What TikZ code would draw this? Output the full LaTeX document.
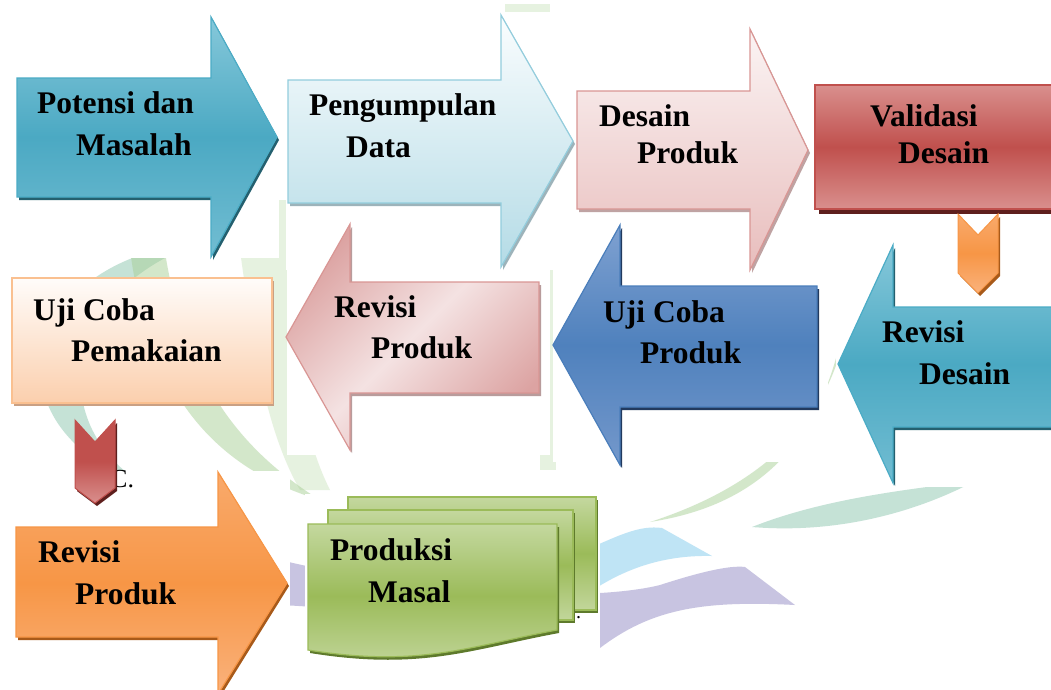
\documentclass[tikz,border=0pt]{standalone}
\usepackage{fontspec}
\setmainfont{Liberation Serif}
\definecolor{tealA}{HTML}{86C8DA}
\definecolor{tealB}{HTML}{4BA9C3}
\definecolor{tealC}{HTML}{72BDD2}
\definecolor{tealD}{HTML}{4BACC6}
\definecolor{tealS}{HTML}{24606F}
\definecolor{ltbA}{HTML}{FAFDFE}
\definecolor{ltbB}{HTML}{B4DBE6}
\definecolor{ltbD}{HTML}{93CDDD}
\definecolor{ltbS}{HTML}{9DB3BA}
\definecolor{pkA}{HTML}{FBF4F4}
\definecolor{pkB}{HTML}{E8BDBC}
\definecolor{pkD}{HTML}{D99694}
\definecolor{pkS}{HTML}{BFA3A3}
\definecolor{redA}{HTML}{D98F8D}
\definecolor{redB}{HTML}{C0504D}
\definecolor{redS}{HTML}{5E1F1D}
\definecolor{bluA}{HTML}{7FA1D1}
\definecolor{bluB}{HTML}{4F81BD}
\definecolor{bluC}{HTML}{7498CB}
\definecolor{bluD}{HTML}{4A7EBB}
\definecolor{bluS}{HTML}{223A5E}
\definecolor{rpD}{HTML}{DCA3A2}
\definecolor{rpL}{HTML}{F4E2E2}
\definecolor{rpS}{HTML}{B89C9C}
\definecolor{peA}{HTML}{FFFCFA}
\definecolor{peB}{HTML}{FBCFAD}
\definecolor{peD}{HTML}{FAC090}
\definecolor{peS}{HTML}{C9A084}
\definecolor{orA}{HTML}{F9AA6C}
\definecolor{orB}{HTML}{F79646}
\definecolor{orC}{HTML}{FAB27C}
\definecolor{orS}{HTML}{A85A1A}
\definecolor{grA}{HTML}{C4D89F}
\definecolor{grB}{HTML}{9BBB59}
\definecolor{grC}{HTML}{C2D69B}
\definecolor{grS}{HTML}{5E7A2C}
\definecolor{wmGreen}{HTML}{A9D097}
\definecolor{wmLight}{HTML}{CFE6C2}
\definecolor{wmTeal}{HTML}{7FBFA5}
\definecolor{wmPurple}{HTML}{938BC4}
\definecolor{wmBlue}{HTML}{72C4EA}
\newcommand\dropshape[3]{\fill[#2, shift={(2,3)}] #3; \path[#1] #3;}
\begin{document}
\begin{tikzpicture}[x=1pt,y=-1pt,
  lbl/.style={inner sep=0pt, anchor=base west, font=\bfseries\fontsize{31.5}{37}\selectfont},
  patch/.style={fill=white},
  tealfill/.style={top color=tealA, bottom color=tealC, middle color=tealB, draw=tealD, line width=1.2pt},
  ltbfill/.style={top color=ltbA, bottom color=ltbB, draw=ltbD, line width=1.2pt},
  pkfill/.style={top color=pkA, bottom color=pkB, draw=pkD, line width=1.2pt},
  redfill/.style={top color=redA, bottom color=redA, middle color=redB, draw=redB, line width=1.2pt},
  blufill/.style={top color=bluA, bottom color=bluC, middle color=bluB, draw=bluD, line width=1.2pt},
  rpfill/.style={top color=rpD, bottom color=rpD, middle color=rpL, shading angle=45, draw=pkD, line width=1.2pt},
  pefill/.style={top color=peA, bottom color=peB, draw=peD, line width=1.2pt},
  orfill/.style={top color=orA, bottom color=orC, middle color=orB, draw=orB, line width=1.2pt},
  grfill/.style={top color=grA, bottom color=grC, middle color=grB, draw=grB, line width=1.2pt},
  chevred/.style={top color=redB, bottom color=redA, middle color=redB, draw=redB, line width=1pt},
  chevor/.style={top color=orA, bottom color=orC, middle color=orB, draw=orB, line width=1pt}
]
\useasboundingbox (0,0) rectangle (1051,689);
\clip (0,0) rectangle (1051,689);
\fill[white] (0,0) rectangle (1051,689);

% faint watermark
\fill[wmLight, opacity=.5] (233,200) .. controls (250,320) and (260,420) .. (300,490) -- (330,490) .. controls (295,420) and (288,320) .. (288,200) -- cycle;
\fill[wmLight, opacity=.5] (540,230) rectangle (556,470);
\fill[wmLight, opacity=.5] (505,4) rectangle (550,18);
\fill[wmTeal, opacity=.45] (150,252) .. controls (20,290) and (-10,430) .. (150,488) .. controls (60,440) and (50,320) .. (165,258) -- cycle;
\fill[wmGreen, opacity=.5] (130,250) .. controls (150,400) and (220,470) .. (320,500) .. controls (240,450) and (185,380) .. (165,252) -- cycle;
\fill[wmGreen, opacity=.5] (650,522) .. controls (760,505) and (835,440) .. (850,280) .. controls (850,400) and (780,480) .. (650,522) -- cycle;
\fill[wmTeal, opacity=.45] (752,527) .. controls (850,535) and (930,505) .. (975,481) .. controls (900,490) and (820,500) .. (752,527) -- cycle;
\fill[wmBlue, opacity=.45] (590,548) .. controls (620,535) and (640,525) .. (662,528) -- (712,556) .. controls (670,555) and (630,565) .. (590,592) -- cycle;
\fill[wmPurple, opacity=.5] (280,560) .. controls (450,600) and (600,600) .. (660,585) .. controls (700,572) and (730,565) .. (745,567) -- (795,605) .. controls (700,600) and (650,610) .. (600,648) .. controls (500,640) and (400,610) .. (280,605) -- cycle;

% white picture patches
\fill[patch] (14,14) rectangle (279,258);
\fill[patch] (286,12) rectangle (577,270);
\fill[patch] (578,27) rectangle (812,272);
\fill[patch] (287,222) rectangle (550,455);
\fill[patch] (553,223) rectangle (828,462);
\fill[patch] (836,243) rectangle (1051,487);
\fill[patch] (13,471) rectangle (290,689);
\fill[patch] (305,494) rectangle (600,662);

% row 1
\dropshape{tealfill}{tealS}{(17,78) -- (211,78) -- (211,17) -- (277,137) -- (211,257) -- (211,197) -- (17,197) -- cycle}
\node[lbl] (pm1) at (37,113) {Potensi dan};
\node[lbl] (pm2) at (76,155) {Masalah};

\dropshape{ltbfill}{ltbS}{(288,80) -- (501,80) -- (501,15) -- (573,141) -- (501,267) -- (501,203) -- (288,203) -- cycle}
\node[lbl] (pd1) at (309,115) {Pengumpulan};
\node[lbl] (pd2) at (346,157) {Data};

\dropshape{pkfill}{pkS}{(577,91) -- (750,91) -- (750,29) -- (808,150) -- (750,270) -- (750,209) -- (577,209) -- cycle}
\node[lbl] (dp1) at (599,126) {Desain};
\node[lbl] (dp2) at (637,163) {Produk};

\fill[redS] (819,90) rectangle (1060,214);
\path[redfill] (815,85) rectangle (1060,209);
\node[lbl] (vd1) at (870,126) {Validasi};
\node[lbl] (vd2) at (898,163) {Desain};

\dropshape{chevor}{orS}{(958,214) -- (978,235) -- (998,214) -- (998,273) -- (978,293) -- (958,273) -- cycle}

% row 2
\dropshape{tealfill}{tealS}{(1060,307) -- (893,307) -- (893,245) -- (838,364) -- (893,483) -- (893,427) -- (1060,427) -- cycle}
\node[lbl] (rd1) at (882,342) {Revisi};
\node[lbl] (rd2) at (919,384) {Desain};

\dropshape{blufill}{bluS}{(817,286) -- (620,286) -- (620,225) -- (553,345) -- (620,465) -- (620,407) -- (817,407) -- cycle}
\node[lbl] (up1) at (603,322) {Uji Coba};
\node[lbl] (up2) at (640,363) {Produk};

\dropshape{rpfill}{rpS}{(539,282) -- (350,282) -- (350,224) -- (286,337) -- (350,450) -- (350,393) -- (539,393) -- cycle}
\node[lbl] (rp1) at (334,317) {Revisi};
\node[lbl] (rp2) at (371,358) {Produk};

\dropshape{pefill}{peS}{(12,278) rectangle (272,403)}
\node[lbl] (uk1) at (33,320) {Uji Coba};
\node[lbl] (uk2) at (71,361) {Pemakaian};

\node[inner sep=0pt, anchor=base west, font=\fontsize{26}{30}\selectfont] (cdot) at (110,487) {C.};
\dropshape{chevred}{redS}{(75,420) -- (95,442) -- (115,420) -- (115,488) -- (95,503) -- (75,488) -- cycle}

% row 3
\dropshape{orfill}{orS}{(16,527) -- (218,527) -- (218,472) -- (287,583) -- (218,694) -- (218,637) -- (16,637) -- cycle}
\node[lbl] (ro1) at (38,562) {Revisi};
\node[lbl] (ro2) at (75,604) {Produk};

\dropshape{grfill}{grS}{(348,497) rectangle (596,610)}
\dropshape{grfill}{grS}{(328,510) rectangle (573,620)}
\dropshape{grfill}{grS}{(308,524) -- (557,524) -- (557,630) .. controls (470,646) and (420,668) .. (308,650) -- cycle}
\node[lbl] (pmz1) at (330,560) {Produksi};
\node[lbl] (pmz2) at (368,602) {Masal};
\node[inner sep=0pt, anchor=base west, font=\fontsize{20}{24}\selectfont] (gdot) at (576,618) {.};
\end{tikzpicture}
\end{document}
